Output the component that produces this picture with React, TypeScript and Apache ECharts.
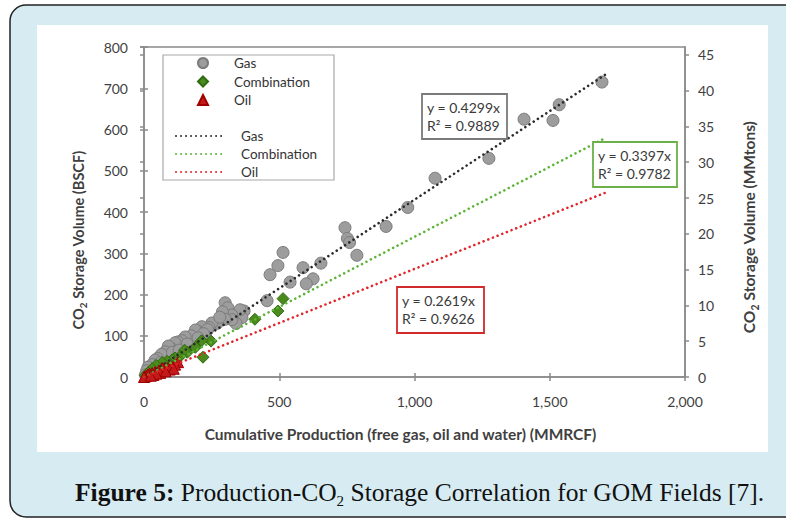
import React, { useEffect, useRef } from "react";
import * as echarts from "echarts";

// ---- data ----
const gasPoints: number[][] = [
  [1693, 715], [1535, 660], [1512, 622], [1405, 625], [1275, 530], [1076, 482],
  [975, 411], [895, 365], [787, 295], [743, 362], [752, 336], [760, 326],
  [654, 276], [625, 238], [600, 226], [588, 265], [540, 230], [514, 302],
  [495, 270], [466, 248], [455, 185], [370, 160], [362, 144], [355, 163],
  [340, 130], [300, 180], [310, 168], [325, 150], [290, 158], [325, 139],
  [300, 140], [270, 130], [251, 131], [240, 120], [214, 122], [200, 110],
  [190, 114], [175, 100], [152, 97], [140, 88], [125, 85], [115, 83],
  [100, 70], [90, 75], [78, 61], [65, 55], [50, 45], [41, 41], [30, 30],
  [15, 24], [10, 15], [5, 5], [280, 145], [235, 115], [220, 105], [160, 80],
  [105, 60], [60, 35], [130, 65], [200, 95]
];
const combinationPoints: number[][] = [
  [514, 190], [495, 160], [410, 140], [248, 87], [213, 88], [218, 48],
  [190, 72], [160, 60], [150, 65], [133, 50], [115, 46], [105, 42],
  [85, 38], [67, 35], [45, 28], [30, 20], [15, 10], [5, 4]
];
const oilPoints: number[][] = [
  [126, 36], [115, 30], [103, 24], [89, 22], [75, 20], [67, 22], [55, 16],
  [41, 12], [30, 10], [20, 8], [15, 6], [8, 3], [3, 1], [0, 0], [95, 18],
  [60, 10], [35, 5], [110, 20], [80, 14], [45, 8], [25, 3]
];
const gasTrend: number[][] = [[0, 0], [1710, 735]];
const combinationTrend: number[][] = [[0, 0], [1710, 581]];
const oilTrend: number[][] = [[0, 0], [1710, 448]];

const scatterNames = ["Gas", "Combination", "Oil"];
const trendNames = ["Gas trend", "Combination trend", "Oil trend"];
const gasEquation = ["y = 0.4299x", "R² = 0.9889"];
const combinationEquation = ["y = 0.3397x", "R² = 0.9782"];
const oilEquation = ["y = 0.2619x", "R² = 0.9626"];

const FONT = 'Lato, "Liberation Sans", sans-serif';
const AXIS = "#8a8a8a";
const LABEL = "#3f3f3f";

function subRich(size: number) {
  return {
    m: { fontSize: size, fontWeight: "bold", color: LABEL, lineHeight: 20, fontFamily: FONT },
    sub: { fontSize: size * 0.68, fontWeight: "bold", color: LABEL, lineHeight: 10, verticalAlign: "top", padding: [10, 0, 0, 0], fontFamily: FONT }
  };
}

function eqBox(x: number, y: number, w: number, h: number, color: string, lines: string[]) {
  return {
    type: "group",
    z: 20,
    children: [
      { type: "rect", shape: { x, y, width: w, height: h }, style: { fill: "#ffffff", stroke: color, lineWidth: 1.8 }, z: 20 },
      { type: "text", x: x + 5, y: y + 13, z: 21, style: { text: lines[0], font: `14px ${FONT}`, fill: "#3a3a3a", verticalAlign: "middle" } },
      { type: "text", x: x + 5, y: y + 31, z: 21, style: { text: lines[1], font: `14px ${FONT}`, fill: "#3a3a3a", verticalAlign: "middle" } }
    ]
  };
}

const tickStyle = { color: AXIS, width: 1.5 };

const option: any = {
  animation: false,
  backgroundColor: "#ffffff",
  textStyle: { fontFamily: FONT },
  grid: { left: 144, right: 101, top: 47, bottom: 148, show: true, borderColor: AXIS, borderWidth: 1.5 },
  xAxis: [
    {
      type: "value", min: 0, max: 2000, interval: 500, position: "bottom",
      name: "Cumulative Production (free gas, oil and water) (MMRCF)",
      nameLocation: "middle", nameGap: 49,
      nameTextStyle: { fontSize: 15.5, fontWeight: "bold", color: LABEL, padding: [0, 28, 0, 0] },
      axisLine: { show: true, onZero: false, lineStyle: { color: AXIS, width: 1.5 } },
      axisTick: { show: true, inside: false, length: 4, lineStyle: tickStyle },
      axisLabel: { margin: 17, fontSize: 14, color: LABEL, formatter: (v: number) => v.toLocaleString("en-US") },
      splitLine: { show: false }
    },
    {
      type: "value", min: 0, max: 2000, interval: 500, position: "bottom",
      axisLine: { show: false }, axisTick: { show: true, inside: true, length: 4, lineStyle: tickStyle },
      axisLabel: { show: false }, splitLine: { show: false }
    }
  ],
  yAxis: [
    {
      type: "value", min: 0, max: 800, interval: 100, position: "left",
      name: "{m|CO}{sub|2}{m| Storage Volume (BSCF)}",
      nameLocation: "middle", nameGap: 56, nameRotate: 90,
      nameTextStyle: { rich: subRich(14.5), padding: [0, 56, 0, 0] },
      axisLine: { show: true, onZero: false, lineStyle: { color: AXIS, width: 1.5 } },
      axisTick: { show: true, inside: false, length: 4, lineStyle: tickStyle },
      axisLabel: { margin: 16, fontSize: 14, color: LABEL },
      splitLine: { show: false }
    },
    {
      type: "value", min: 0, max: 46.1, interval: 5, position: "right",
      name: "{m|CO}{sub|2}{m| Storage Volume (MMtons)}",
      nameLocation: "middle", nameGap: 54, nameRotate: 90,
      nameTextStyle: { rich: subRich(15.5), padding: [0, 30, 0, 0] },
      axisLine: { show: true, onZero: false, lineStyle: { color: AXIS, width: 1.5 } },
      axisTick: { show: true, inside: false, length: 4, lineStyle: tickStyle },
      axisLabel: { margin: 13, fontSize: 14, color: LABEL, showMaxLabel: false, formatter: (v: number) => (Math.abs(v % 5) < 1e-6 ? String(v) : "") },
      splitLine: { show: false }
    },
    {
      type: "value", min: 0, max: 800, interval: 100, position: "left",
      axisLine: { show: false }, axisTick: { show: true, inside: true, length: 4, lineStyle: tickStyle },
      axisLabel: { show: false }, splitLine: { show: false }
    },
    {
      type: "value", min: 0, max: 46.1, interval: 5, position: "right",
      axisLine: { show: false }, axisTick: { show: true, inside: true, length: 4, lineStyle: tickStyle },
      axisLabel: { show: false }, splitLine: { show: false }
    }
  ],
  legend: [
    {
      orient: "vertical", left: 197, top: 56, padding: 0, itemWidth: 10, itemHeight: 10, itemGap: 4.5,
      data: scatterNames, selectedMode: false,
      textStyle: { fontSize: 13.5, color: "#333333", lineHeight: 14, padding: [0, 0, 0, 21], fontFamily: FONT }
    },
    {
      orient: "vertical", left: 175, top: 129, padding: 0, itemWidth: 48, itemHeight: 10, itemGap: 4,
      data: trendNames, selectedMode: false,
      itemStyle: { opacity: 0 },
      formatter: (n: string) => n.replace(" trend", ""),
      textStyle: { fontSize: 13.5, color: "#333333", lineHeight: 14, padding: [0, 0, 0, 12], fontFamily: FONT }
    }
  ],
  graphic: [
    { type: "rect", z: -10, shape: { x: 10, y: 5, width: 800, height: 512, r: 16 }, style: { fill: "#d7ecf2", stroke: "#222222", lineWidth: 1.5 } },
    { type: "rect", z: -9, shape: { x: 37, y: 25, width: 731, height: 427 }, style: { fill: "#ffffff" } },
    { type: "rect", z: 1, shape: { x: 163, y: 55, width: 171, height: 125 }, style: { fill: "none", stroke: "#a8a8a8", lineWidth: 1.2 } },
    eqBox(422, 94, 85, 45, "#7a7a7a", gasEquation),
    eqBox(593, 142, 84, 45, "#6cb04a", combinationEquation),
    eqBox(397, 287, 87, 46, "#d02a2a", oilEquation),
    {
      type: "text", x: 75, y: 492, z: 5,
      style: {
        text: "{b|Figure 5:}{r| Production-CO}{s|2}{r| Storage Correlation for GOM Fields [7].}",
        verticalAlign: "middle",
        rich: {
          b: { fontFamily: '"Liberation Serif", serif', fontWeight: "bold", fontSize: 25.5, fill: "#111111", lineHeight: 30 },
          r: { fontFamily: '"Liberation Serif", serif', fontSize: 25.5, fill: "#111111", lineHeight: 30 },
          s: { fontFamily: '"Liberation Serif", serif', fontSize: 15, fill: "#111111", lineHeight: 15, verticalAlign: "top", padding: [16, 0, 0, 0] }
        }
      }
    }
  ],
  series: [
    {
      type: "scatter", name: "Gas", data: gasPoints, symbol: "circle", symbolSize: 12, z: 3,
      itemStyle: { color: "#9d9d9d", borderColor: "#7b7b7b", borderWidth: 1, opacity: 1 }
    },
    {
      type: "scatter", name: "Combination", data: combinationPoints, symbol: "diamond", symbolSize: 12, z: 4,
      itemStyle: { color: "#4b8b1e", borderColor: "#2f6a10", borderWidth: 1, opacity: 1 }
    },
    {
      type: "scatter", name: "Oil", data: oilPoints, symbol: "triangle", symbolSize: 11, z: 5,
      itemStyle: { color: "#c41a1a", borderColor: "#a00000", borderWidth: 1, opacity: 1 }
    },
    {
      type: "line", name: "Gas trend", data: gasTrend, symbol: "none", z: 6, silent: true,
      itemStyle: { color: "#2b2b2b" },
      lineStyle: { color: "#2b2b2b", width: 2.6, type: [0.01, 5], cap: "round" }
    },
    {
      type: "line", name: "Combination trend", data: combinationTrend, symbol: "none", z: 6, silent: true,
      itemStyle: { color: "#5cb335" },
      lineStyle: { color: "#5cb335", width: 2.6, type: [0.01, 5], cap: "round" }
    },
    {
      type: "line", name: "Oil trend", data: oilTrend, symbol: "none", z: 6, silent: true,
      itemStyle: { color: "#e0262b" },
      lineStyle: { color: "#e0262b", width: 2.6, type: [0.01, 5], cap: "round" }
    }
  ]
};

export default function App() {
  const ref = useRef<HTMLDivElement>(null);
  useEffect(() => {
    document.body.style.margin = "0";
    const chart = echarts.init(ref.current as HTMLDivElement, null, { renderer: "svg" });
    chart.setOption(option);
    return () => chart.dispose();
  }, []);
  return <div ref={ref} style={{ width: 786, height: 525 }} />;
}
